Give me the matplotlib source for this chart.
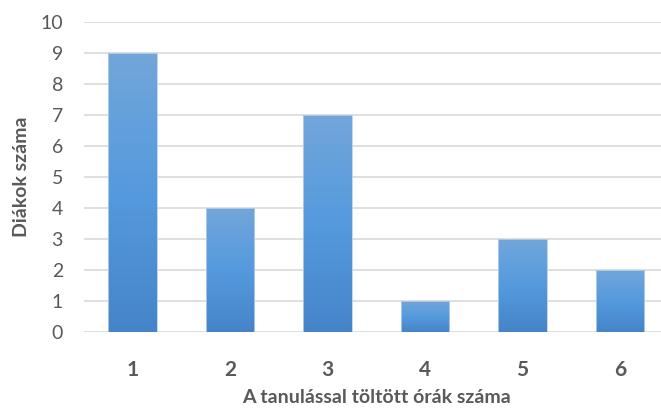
import numpy as np
import matplotlib.pyplot as plt
from matplotlib.colors import LinearSegmentedColormap

# hours spent studying vs number of students
hours = ['1', '2', '3', '4', '5', '6']
students = [9, 4, 7, 1, 3, 2]

plt.rcParams['font.family'] = ['Lato', 'DejaVu Sans']
text_color = '#595959'

fig = plt.figure(figsize=(6.61, 4.08), dpi=100)
ax = fig.add_axes([0.1267, 0.1863, 0.885, 0.7598])

x = np.arange(len(hours))
bars = ax.bar(x, students, width=0.5, color='none', edgecolor='#b7d0ea', linewidth=0.6, zorder=3)

# vertical gradient inside each bar, light on top, darker at the base
grad_cmap = LinearSegmentedColormap.from_list('bar', ['#4684c8', '#559ade', '#72a6da'])
grad = np.linspace(0, 1, 256).reshape(-1, 1)
for rect, h in zip(bars, students):
    x0 = rect.get_x()
    im = ax.imshow(grad, cmap=grad_cmap, origin='lower', aspect='auto',
                   extent=[x0, x0 + rect.get_width(), 0, h], zorder=2)
    im.set_clip_path(rect)

ax.set_xlim(-0.5, len(hours) - 0.5)
ax.set_ylim(0, 10)
ax.set_yticks(range(0, 11))
ax.set_xticks(x)
ax.set_xticklabels(hours, fontsize=15, fontweight='bold', color=text_color)
ax.tick_params(axis='y', labelsize=14, labelcolor=text_color, length=0, pad=15)
ax.tick_params(axis='x', length=0, pad=20)

ax.grid(axis='y', color='#d9d9d9', linewidth=1.2, zorder=0)
ax.set_axisbelow(True)
for s in ax.spines.values():
    s.set_visible(False)

ax.set_xlabel('A tanulással töltött órák száma', fontsize=14, fontweight='bold',
              color=text_color)
ax.set_ylabel('Diákok száma', fontsize=14, fontweight='bold', color=text_color)
ax.xaxis.set_label_coords(0.5, -0.183)
ax.yaxis.set_label_coords(-0.092, 0.5)

fig.savefig('out.png', dpi=100)
